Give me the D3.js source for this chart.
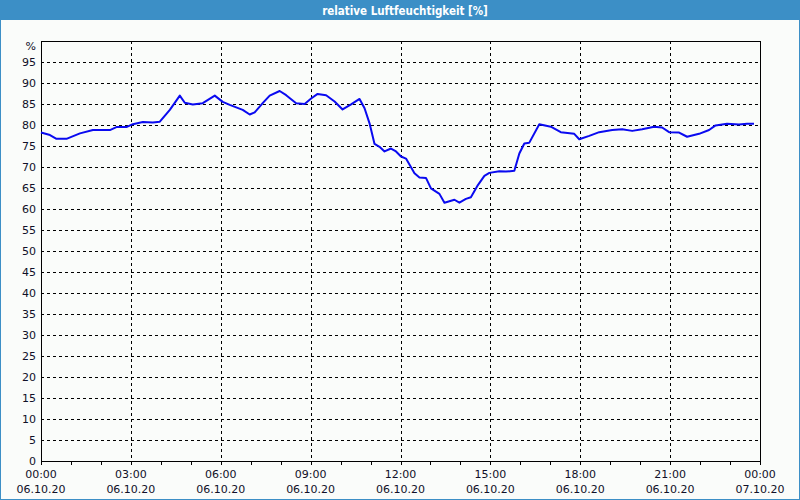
<!DOCTYPE html>
<html><head><meta charset="utf-8">
<script src="https://cdn.jsdelivr.net/npm/d3@7"></script>
<style>
html,body{margin:0;padding:0;background:#fff;}
svg{display:block;}
text{font-family:"DejaVu Sans",Verdana,sans-serif;}
</style></head>
<body>
<svg id="c" width="800" height="500"></svg>
<script>
const title = "relative Luftfeuchtigkeit [%]";
const unitLabel = "%";
const times = ["00:00","00:18","00:31","00:51","01:18","01:44","02:18","02:31","02:51","03:04","03:24","03:44","03:58","04:18","04:38","04:48","05:04","05:24","05:48","06:04","06:18","06:44","06:58","07:08","07:24","07:38","07:58","08:11","08:31","08:48","09:01","09:14","09:31","09:48","10:04","10:21","10:38","10:48","10:58","11:08","11:18","11:28","11:41","11:51","12:01","12:11","12:28","12:38","12:51","13:01","13:18","13:28","13:48","13:58","14:11","14:21","14:35","14:48","14:58","15:18","15:31","15:48","15:58","16:08","16:18","16:38","17:01","17:21","17:48","17:58","18:18","18:38","19:04","19:24","19:44","20:04","20:28","20:44","20:58","21:18","21:34","21:58","22:18","22:31","22:54","23:18","23:34","23:48"];
const humidity = [78.2,77.6,76.7,76.7,78.0,78.8,78.8,79.5,79.5,80.2,80.7,80.6,80.8,83.6,87.0,85.3,84.9,85.2,87.0,85.5,84.8,83.6,82.5,83.0,85.2,87.0,88.1,87.1,85.2,85.0,86.3,87.4,87.1,85.6,83.7,84.9,86.2,84.0,80.4,75.5,74.8,73.7,74.4,73.7,72.5,72.0,68.5,67.5,67.4,64.9,63.6,61.5,62.2,61.5,62.4,62.8,65.7,67.9,68.6,69.0,68.9,69.1,73.2,75.6,75.8,80.2,79.6,78.3,77.9,76.6,77.4,78.3,78.8,79.0,78.6,79.0,79.6,79.4,78.3,78.2,77.2,77.9,78.8,79.9,80.3,80.1,80.3,80.3];
const xTickTimes = ["2020-10-06T00:00","2020-10-06T03:00","2020-10-06T06:00","2020-10-06T09:00","2020-10-06T12:00","2020-10-06T15:00","2020-10-06T18:00","2020-10-06T21:00","2020-10-07T00:00"];
const xTickTop = ["00:00","03:00","06:00","09:00","12:00","15:00","18:00","21:00","00:00"];
const xTickBottom = ["06.10.20","06.10.20","06.10.20","06.10.20","06.10.20","06.10.20","06.10.20","06.10.20","07.10.20"];
const yTicks = [0,5,10,15,20,25,30,35,40,45,50,55,60,65,70,75,80,85,90,95];

const W = 800, H = 500;
const m = {left:41, right:40, top:41, bottom:39};
const parse = d3.timeParse("%Y-%m-%dT%H:%M");
const data = times.map((t,i)=>({t: parse("2020-10-06T"+t), v: humidity[i]}));

const svg = d3.select("#c");
svg.append("rect").attr("x",0).attr("y",0).attr("width",W).attr("height",H).attr("fill","#3c8fc6");
svg.append("rect").attr("x",1).attr("y",20).attr("width",W-2).attr("height",H-21).attr("fill","#fafcfa");
svg.append("text").attr("x",405).attr("y",14.5).attr("text-anchor","middle")
  .attr("fill","#fff").attr("font-size","11.5px").attr("font-weight","bold")
  .style("font-family","'DejaVu Sans Condensed','DejaVu Sans',sans-serif").text(title);

const x = d3.scaleTime().domain([parse(xTickTimes[0]), parse(xTickTimes[xTickTimes.length-1])]).range([m.left, W-m.right]);
const y = d3.scaleLinear().domain([0,100]).range([H-m.bottom, m.top]);

const g = svg.append("g");
g.selectAll("line.hg").data(yTicks.filter(d=>d>0)).enter().append("line")
  .attr("x1",m.left).attr("x2",W-m.right)
  .attr("y1",d=>Math.round(y(d))+0.5).attr("y2",d=>Math.round(y(d))+0.5)
  .attr("stroke","#000").attr("stroke-width",1).attr("stroke-dasharray","3,3");
g.selectAll("line.vg").data(xTickTimes.slice(1,-1)).enter().append("line")
  .attr("x1",d=>Math.round(x(parse(d)))+0.5).attr("x2",d=>Math.round(x(parse(d)))+0.5)
  .attr("y1",m.top).attr("y2",H-m.bottom)
  .attr("stroke","#000").attr("stroke-width",1).attr("stroke-dasharray","3,3");

const hours = d3.timeHour.range(x.domain()[0], d3.timeMinute.offset(x.domain()[1],1));
g.selectAll("line.mt").data(hours).enter().append("line")
  .attr("x1",d=>Math.round(x(d))+0.5).attr("x2",d=>Math.round(x(d))+0.5)
  .attr("y1",H-m.bottom).attr("y2",H-m.bottom+4)
  .attr("stroke","#000");

svg.append("rect").attr("x",m.left+0.5).attr("y",m.top+0.5)
  .attr("width",W-m.left-m.right).attr("height",H-m.top-m.bottom)
  .attr("fill","none").attr("stroke","#000");

svg.selectAll("text.yl").data(yTicks).enter().append("text")
  .attr("x",36).attr("y",d=>y(d)+4).attr("text-anchor","end")
  .attr("font-size","11px").attr("fill","#101028").text(d=>d);
svg.append("text").attr("x",36).attr("y",y(100)+9).attr("text-anchor","end")
  .attr("font-size","11px").attr("fill","#101028").text(unitLabel);

xTickTimes.forEach((d,i)=>{
  const px = x(parse(d));
  svg.append("text").attr("x",px).attr("y",478).attr("text-anchor","middle")
    .attr("font-size","11px").attr("fill","#101028").text(xTickTop[i]);
  svg.append("text").attr("x",px).attr("y",493).attr("text-anchor","middle")
    .attr("font-size","11px").attr("fill","#101028").text(xTickBottom[i]);
});

const line = d3.line().x(d=>x(d.t)).y(d=>y(d.v));
svg.append("path").datum(data).attr("d",line)
  .attr("fill","none").attr("stroke","#0a0af0").attr("stroke-width",2).attr("stroke-linejoin","round");
</script>
</body></html>
